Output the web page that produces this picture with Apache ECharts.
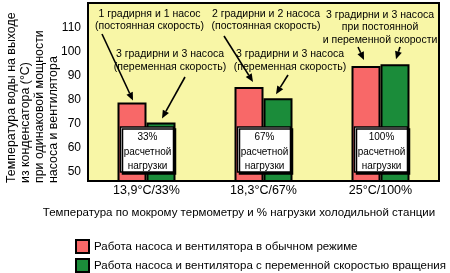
<!DOCTYPE html>
<html>
<head>
<meta charset="utf-8">
<script src="https://cdn.jsdelivr.net/npm/echarts@6/dist/echarts.min.js"></script>
<style>
  html, body { margin: 0; padding: 0; background: #fff; }
  #chart { width: 450px; height: 273px; }
</style>
</head>
<body>
<div id="chart"></div>
<script>
// данные
var categories = ['13,9°C/33%', '18,3°C/67%', '25°C/100%'];
var normalValues = [79, 85.5, 94.2];
var variableValues = [70.7, 80.8, 94.9];
var loadLabels = ['33%', '67%', '100%'];
var yTicks = [50, 60, 70, 80, 90, 100, 110];
var seriesNames = [
    'Работа насоса и вентилятора в обычном режиме',
    'Работа насоса и вентилятора с переменной скоростью вращения'
];
var noteTexts = [
    '1 градирня и 1 насос\n(постоянная скорость)',
    '3 градирни и 3 насоса\n(переменная скорость)',
    '2 градирни и 2 насоса\n(постоянная скорость)',
    '3 градирни и 3 насоса\n(переменная скорость)',
    '3 градирни и 3 насоса\nпри постоянной\nи переменной скорости'
];

var FONT = '"Liberation Sans", Arial, sans-serif';
var RED = '#f86868';
var GREEN = '#1b8c3a';

var chart = echarts.init(document.getElementById('chart'));

chart.setOption({
    animation: false,
    textStyle: { fontFamily: FONT, color: '#000' },
    grid: {
        left: 88, right: 11, top: 3, bottom: 92,
        show: true,
        backgroundColor: '#f8f6a6',
        borderColor: '#000',
        borderWidth: 2
    },
    xAxis: {
        type: 'category',
        data: categories,
        axisLine: { show: false },
        axisTick: { show: false },
        axisLabel: { margin: 3, fontSize: 12.5, color: '#000' }
    },
    yAxis: {
        type: 'value',
        min: 46.25,
        max: 120.5,
        axisLine: { show: false },
        axisTick: { show: false },
        splitLine: { show: false },
        axisLabel: { customValues: yTicks, margin: 7, fontSize: 12, color: '#000' }
    },
    legend: {
        orient: 'vertical',
        left: 75,
        top: 239,
        width: 375,
        height: 40,
        padding: 0,
        itemWidth: 13,
        itemHeight: 13,
        itemGap: 4,
        icon: 'rect',
        selectedMode: false,
        itemStyle: { borderColor: '#000', borderWidth: 2 },
        textStyle: { fontSize: 11.5, color: '#000' },
        data: seriesNames
    },
    series: [
        {
            name: seriesNames[0],
            type: 'bar',
            data: normalValues,
            barWidth: 29,
            barGap: '0%',
            itemStyle: { color: RED, borderColor: '#000', borderWidth: 2 }
        },
        {
            name: seriesNames[1],
            type: 'bar',
            data: variableValues,
            barWidth: 29,
            itemStyle: { color: GREEN, borderColor: '#000', borderWidth: 2 }
        }
    ]
});

// верх столбца в пикселях
function barTop(cat, s, dx, dy) {
    var vals = s === 0 ? normalValues : variableValues;
    var p = chart.convertToPixel({ gridIndex: 0 }, [cat, vals[cat]]);
    return [p[0] + (s === 0 ? -14.5 : 14.5) + dx, p[1] + dy];
}

function arrow(from, to) {
    var dx = to[0] - from[0], dy = to[1] - from[1];
    var len = Math.sqrt(dx * dx + dy * dy);
    var ux = dx / len, uy = dy / len;
    var hl = 8, hw = 3.5;
    var bx = to[0] - ux * hl, by = to[1] - uy * hl;
    return [
        {
            type: 'line', z: 100,
            shape: { x1: from[0], y1: from[1], x2: bx, y2: by },
            style: { stroke: '#000', lineWidth: 1.6 }
        },
        {
            type: 'polygon', z: 100,
            shape: { points: [to, [bx - uy * hw, by + ux * hw], [bx + uy * hw, by - ux * hw]] },
            style: { fill: '#000' }
        }
    ];
}

function note(text, x, y) {
    return {
        type: 'text', z: 100, x: x, y: y,
        style: {
            text: text, fontSize: 10.5, fontFamily: FONT, fill: '#000',
            lineHeight: 12.5, align: 'center', verticalAlign: 'top'
        }
    };
}

var g = [];
// подписи со стрелками
g.push(note(noteTexts[0], 149.5, 7.5));
g = g.concat(arrow([102, 34], barTop(0, 0, 1, -2)));
g.push(note(noteTexts[1], 170, 48));
g = g.concat(arrow([185, 77], barTop(0, 1, 1, -4)));
g.push(note(noteTexts[2], 266, 7.5));
g = g.concat(arrow([224, 36], barTop(1, 0, 4, -5)));
g.push(note(noteTexts[3], 290, 48));
g = g.concat(arrow([288, 75], barTop(1, 1, -2, -4)));
g.push(note(noteTexts[4], 380, 8.5));
g = g.concat(arrow([358, 47], barTop(2, 0, -2, -6)));
g = g.concat(arrow([400, 47], barTop(2, 1, 1, -5)));

// белые плашки с нагрузкой
loadLabels.forEach(function (lbl, i) {
    var cx = chart.convertToPixel({ gridIndex: 0 }, [i, 50])[0] + 1;
    g.push({
        type: 'rect', z: 100,
        shape: { x: cx - 27, y: 127, width: 53, height: 45 },
        style: {
            fill: '#fff', stroke: '#000', lineWidth: 1.5,
            shadowColor: '#000', shadowOffsetX: 2, shadowOffsetY: 2, shadowBlur: 0
        }
    });
    g.push({
        type: 'text', z: 101, x: cx, y: 130,
        style: {
            text: lbl + '\nрасчетной\nнагрузки', fontSize: 10, fontFamily: FONT, fill: '#000',
            lineHeight: 14.5, align: 'center', verticalAlign: 'top'
        }
    });
});

// подпись оси Y
g.push({
    type: 'text', x: 5, y: 183, rotation: Math.PI / 2,
    style: {
        text: 'Температура воды на выходе\nиз конденсатора (°C)\nпри одинаковой мощности\nнасоса и вентилятора',
        fontSize: 12.4, fontFamily: FONT, fill: '#000', lineHeight: 13.8,
        align: 'left', verticalAlign: 'top'
    }
});
// подпись оси X
g.push({
    type: 'text', x: 239, y: 213,
    style: {
        text: 'Температура по мокрому термометру и % нагрузки холодильной станции',
        fontSize: 11.5, fontFamily: FONT, fill: '#000', align: 'center', verticalAlign: 'middle'
    }
});

chart.setOption({ graphic: g });
</script>
</body>
</html>
